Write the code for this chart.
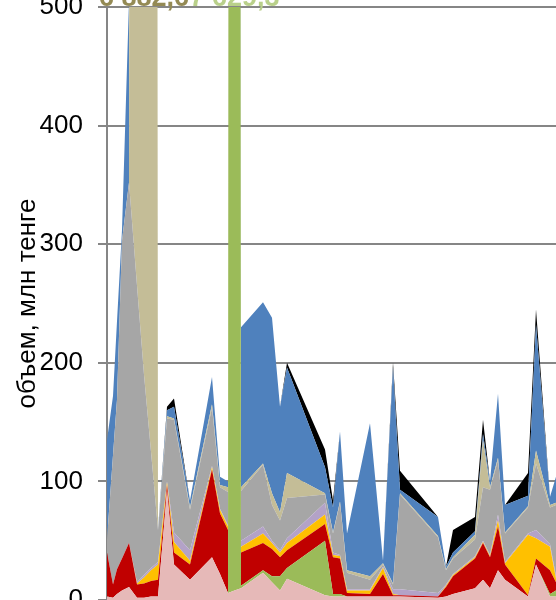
<!DOCTYPE html>
<html>
<head>
<meta charset="utf-8">
<script src="https://cdn.jsdelivr.net/npm/chart.js@4.4.0/dist/chart.umd.min.js"></script>
<style>
    html, body { margin: 0; padding: 0; overflow: hidden; background: #fff; }
</style>
</head>
<body>
<canvas id="myChart" width="600" height="640"></canvas>
<script>
// day of each record (irregular date axis)
const days = [0, 1.5, 2.5, 3.75, 5.5, 7.5, 9.25, 11, 12.75, 15, 16.75, 20.75, 26.25, 28.25, 30.25, 31.875, 33.5, 39, 41.25, 43.25, 45, 54.5, 56.5, 58.25, 60, 65.75, 69, 71.5, 73.25, 82.75, 84.75, 86.5, 92, 94, 95.75, 97.75, 99.5, 105.25, 107.25, 110.75, 112.25, 114.75, 118.25];

// series values, mln tenge (stack order bottom -> top)
const pink = [3, 2, 5, 8, 11, 2, 2, 3, 3, 92, 30, 17, 36, 22, 6, 8, 10, 23, 15, 8, 18, 4, 3, 3, 3, 3, 3, 3, 3, 2, 3, 5, 10, 17, 10, 25, 17, 3, 30, 3, 3, 5, 6];
const green = [0, 0, 0, 0, 0, 0, 0, 0, 0, 0, 0, 0, 0, 0, 0, 7629.3, 2, 2, 5, 12, 9, 46, 2, 2, 0, 0, 0, 0, 0, 0, 0, 0, 0, 0, 0, 0, 0, 0, 0, 2, 5, 5, 6];
const red = [37, 11, 21, 27, 37, 11, 12, 13, 14, 5, 10, 13, 74, 51, 53, 42, 28, 23, 23, 16, 15, 14, 31, 30, 3, 2, 19, 1, 1, 1, 8, 15, 25, 31, 26, 37, 13, 1, 5, 20, 7, 20, 23];
const yellow = [0, 0, 0, 0, 0, 1, 5, 9, 13, 2, 9, 3, 2, 3, 3, 3, 5, 8, 5, 4, 6, 8, 2, 2, 2, 3, 5, 1, 0, 0, 1, 1, 1, 1, 1, 5, 1, 51, 17, 20, 3, 10, 10];
const lavender = [0, 0, 0, 0, 0, 1, 2, 2, 2, 1, 8, 9, 1, 1, 1, 3, 5, 6, 2, 2, 4, 10, 2, 1, 1, 1, 1, 4, 5, 3, 1, 1, 1, 1, 1, 5, 1, 1, 7, 2, 2, 2, 3];
const gray = [11, 109, 143, 268, 304, 250, 169, 98, 27, 53, 95, 34, 49, 18, 28, 38, 42, 52, 30, 25, 34, 7, 16, 44, 14, 8, 2, 4, 80, 47, 12, 13, 14, 45, 55, 46, 24, 22, 56, 31, 60, 48, 37];
const tan = [0, 0, 0, 0, 0, 6400, 6882.6, 6300, 0, 2, 1, 2, 3, 2, 4, 4, 3, 1, 10, 7, 21, 1, 1, 1, 2, 3, 1, 1, 1, 1, 1, 1, 4, 40, 2, 2, 1, 1, 11, 2, 2, 2, 3];
const blue = [84, 50, 66, 9, 153, 120, 100, 80, 1, 5, 10, 6, 23, 7, 5, 100, 135, 136, 148, 89, 89, 22, 21, 59, 31, 129, 2, 182, 3, 16, 2, 4, 3, 5, 5, 54, 23, 9, 106, 7, 22, 18, 12];
const black = [0, 0, 0, 0, 0, 5, 5, 5, 0, 3, 7, 0, 0, 0, 0, 0, 0, 0, 0, 0, 4, 15, 6, 0, 0, 0, 0, 4, 16, 0, 0, 19, 12, 12, 0, 0, 0, 19, 13, 0, 0, 2, 0];

const yTicks = [0, 100, 200, 300, 400, 500];
const yTitle = "объем, млн тенге";

const FONT = "'Liberation Sans', Arial, sans-serif";

function series(values, color, fill) {
    return {
        data: values.map((v, i) => ({ x: days[i], y: v })),
        backgroundColor: color,
        borderWidth: 0,
        pointRadius: 0,
        fill: fill,
    };
}

// "6 882,6" style number
function fmt(v) {
    const parts = v.toFixed(1).split(".");
    return parts[0].replace(/\B(?=(\d{3})+(?!\d))/g, " ") + "," + parts[1];
}

// value labels of the two off-scale peaks, drawn above the plot
const peakLabels = {
    id: "peakLabels",
    afterDraw(chart) {
        const c = chart.ctx;
        const xs = chart.scales.x;
        const top = chart.chartArea.top;
        [[tan, "#948A54"], [green, "#B9D08A"]].forEach(([vals, color]) => {
            const max = Math.max(...vals);
            const i = vals.indexOf(max);
            c.save();
            c.font = "bold 27px " + FONT;
            c.fillStyle = color;
            c.textAlign = "center";
            c.textBaseline = "alphabetic";
            c.fillText(fmt(max), xs.getPixelForValue(days[i]), top - 1);
            c.restore();
        });
    },
};

const ctx = document.getElementById("myChart").getContext("2d");
const chart = new window.Chart(ctx, {
    type: "line",
    data: {
        datasets: [
            series(pink, "#E6B9B8", "origin"),
            series(green, "#9BBB59", "-1"),
            series(red, "#C00000", "-1"),
            series(yellow, "#FFC000", "-1"),
            series(lavender, "#B3A2C7", "-1"),
            series(gray, "#A6A6A6", "-1"),
            series(tan, "#C4BD97", "-1"),
            series(blue, "#4F81BD", "-1"),
            series(black, "#000000", "-1"),
        ],
    },
    options: {
        responsive: false,
        devicePixelRatio: 1,
        animation: false,
        layout: { padding: { top: 7, right: 13, bottom: 40, left: 0 } },
        elements: { line: { tension: 0 } },
        plugins: {
            legend: { display: false },
            tooltip: { enabled: false },
        },
        scales: {
            x: {
                type: "linear",
                min: 0,
                max: 120,
                display: false,
            },
            y: {
                stacked: true,
                min: yTicks[0],
                max: yTicks[yTicks.length - 1],
                afterBuildTicks: (axis) => {
                    axis.ticks = yTicks.map((v) => ({ value: v }));
                },
                afterFit: (axis) => {
                    axis.width = 107;
                    axis.paddingTop = 0;
                    axis.paddingBottom = 0;
                },
                grid: {
                    color: "#868686",
                    lineWidth: 2,
                    tickLength: 9,
                },
                border: { display: true, color: "#868686", width: 2 },
                ticks: {
                    color: "#000",
                    padding: 15,
                    font: { family: FONT, size: 26 },
                },
                title: {
                    display: true,
                    text: yTitle,
                    color: "#000",
                    padding: { top: 12, bottom: 0 },
                    font: { family: FONT, size: 26 },
                },
            },
        },
    },
    plugins: [peakLabels],
});
</script>
</body>
</html>
